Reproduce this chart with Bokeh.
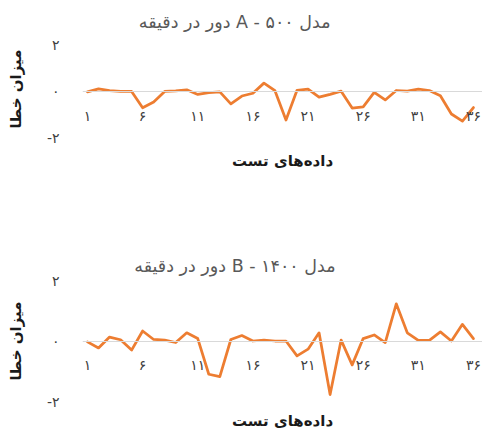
from bokeh.plotting import figure
from bokeh.models import FixedTicker, LinearAxis, Range1d, Title
from bokeh.layouts import column
from bokeh.embed import file_html
from bokeh.resources import INLINE

# ---- data ----
x_values = list(range(1, 37))
errors_a = [-0.02, 0.11, 0.03, 0.0, 0.0, -0.71, -0.46, 0.0, 0.02, 0.07, -0.13, -0.05,
            -0.02, -0.54, -0.2, -0.08, 0.36, 0.03, -1.24, 0.05, 0.1, -0.25, -0.13, 0.01,
            -0.72, -0.67, -0.04, -0.37, 0.04, 0.01, 0.1, 0.04, -0.19, -0.98, -1.29, -0.7]
errors_b = [-0.03, -0.23, 0.13, 0.04, -0.30, 0.33, 0.05, 0.03, -0.05, 0.27, 0.08, -1.1,
            -1.18, 0.05, 0.18, 0.0, 0.03, 0.0, 0.0, -0.49, -0.27, 0.27, -1.77, 0.03,
            -0.79, 0.08, 0.2, -0.05, 1.23, 0.27, 0.02, 0.02, 0.3, 0.0, 0.55, 0.08]
x_tick_values = [1, 6, 11, 16, 21, 26, 31, 36]
x_tick_labels = ["۱", "۶", "۱۱", "۱۶", "۲۱", "۲۶", "۳۱", "۳۶"]
y_tick_values = [-2, 0, 2]
y_tick_labels = ["-۲", "۰", "۲"]
title_a = "مدل ۵۰۰ - A دور در دقیقه"
title_b = "مدل B - ۱۴۰۰ دور در دقیقه"
x_title = "داده‌های تست"
y_title = "میزان خطا"

FONT = "DejaVu Sans"
RLE, PDF = "\u202b", "\u202c"
WIDTH = 482
LEFT = 82


def make_panel(values, title, height, border_top, frame_h, y_top, tick_standoff,
               xlabel_standoff, title_offset, title_standoff):
    p = figure(width=WIDTH, height=height, output_backend="svg", toolbar_location=None,
               x_range=Range1d(0.547, 36.82), y_range=Range1d(-2, y_top),
               min_border_left=LEFT, min_border_right=0, min_border_top=border_top,
               min_border_bottom=height - border_top - frame_h)
    p.outline_line_color = None
    p.grid.grid_line_color = None
    p.background_fill_color = "white"
    p.border_fill_color = "white"

    p.title = Title(text=RLE + title + PDF, align="right", offset=title_offset,
                    standoff=title_standoff, text_font=FONT, text_font_size="17.5px",
                    text_font_style="normal", text_color="#595959")

    # category axis positioned at zero
    xa = p.xaxis[0]
    xa.fixed_location = 0
    xa.ticker = FixedTicker(ticks=x_tick_values)
    xa.major_label_overrides = {v: t for v, t in zip(x_tick_values, x_tick_labels)}
    xa.axis_line_color = "#d9d9d9"
    xa.axis_line_width = 1.2
    xa.major_tick_line_color = None
    xa.major_tick_out = 0
    xa.major_tick_in = 0
    xa.minor_tick_line_color = None
    xa.major_label_standoff = tick_standoff
    xa.major_label_text_font = FONT
    xa.major_label_text_font_size = "14px"
    xa.major_label_text_color = "#404040"

    # axis carrying only the x title
    xt = LinearAxis(ticker=FixedTicker(ticks=[]), axis_label=x_title)
    xt.axis_line_color = None
    xt.major_tick_line_color = None
    xt.major_tick_out = 0
    xt.minor_tick_line_color = None
    xt.axis_label_standoff = xlabel_standoff
    xt.axis_label_text_font = FONT
    xt.axis_label_text_font_size = "15px"
    xt.axis_label_text_font_style = "bold"
    xt.axis_label_text_color = "#1a1a1a"
    p.add_layout(xt, "below")

    ya = p.yaxis[0]
    ya.ticker = FixedTicker(ticks=y_tick_values)
    ya.major_label_overrides = {v: t for v, t in zip(y_tick_values, y_tick_labels)}
    ya.axis_line_color = None
    ya.major_tick_line_color = None
    ya.major_tick_out = 0
    ya.major_tick_in = 0
    ya.minor_tick_line_color = None
    ya.major_label_standoff = 23
    ya.major_label_text_font = FONT
    ya.major_label_text_font_size = "14px"
    ya.major_label_text_color = "#404040"
    ya.axis_label = y_title
    ya.axis_label_standoff = 19
    ya.axis_label_text_font = FONT
    ya.axis_label_text_font_size = "15px"
    ya.axis_label_text_font_style = "bold"
    ya.axis_label_text_color = "#1a1a1a"

    p.line(x_values, values, line_color="#ED7D31", line_width=2.75,
           line_join="round", line_cap="round")
    return p


p1 = make_panel(errors_a, title_a, 174, 38, 99, 2.21, 17, 14, 152, 18)
p2 = make_panel(errors_b, title_b, 258, 106, 123, 2.0, 16, 10, 147, 10)

layout = column(p1, p2, spacing=0)
open("out.html", "w").write(file_html(layout, INLINE))
